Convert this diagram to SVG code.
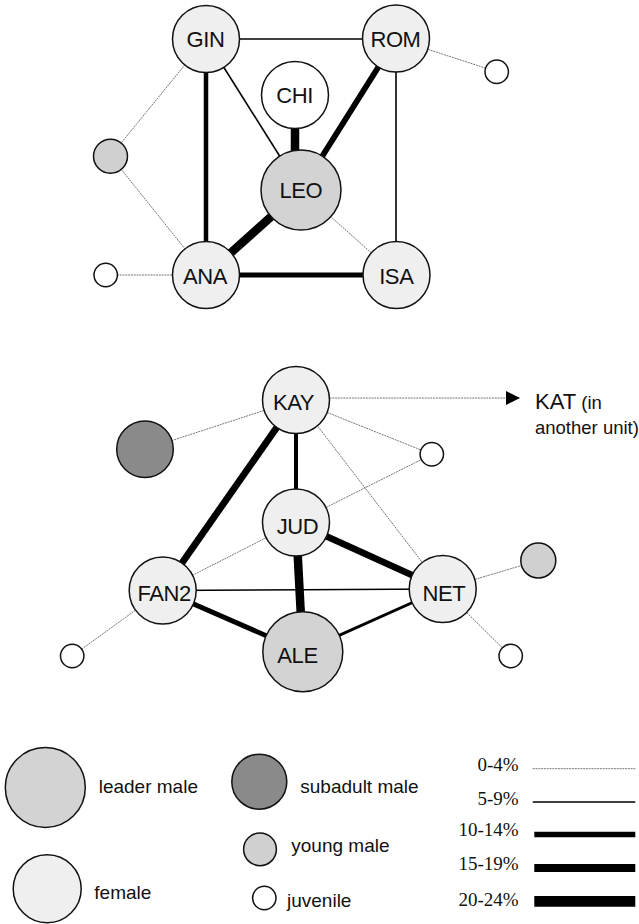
<svg xmlns="http://www.w3.org/2000/svg" width="639" height="924" viewBox="0 0 639 924">
<style>
.n{stroke:#111;stroke-width:1.5}
.fem{fill:#efefef}
.lead{fill:#d3d3d3}
.young{fill:#d0d0d0}
.sub{fill:#8a8a8a}
.juv{fill:#fff}
.lbl{font-family:"Liberation Sans",Arial,sans-serif;font-size:22px;fill:#111;text-anchor:middle;letter-spacing:-0.4px}
.leg{font-family:"Liberation Sans",Arial,sans-serif;font-size:19px;fill:#111}
.pct{font-family:"Liberation Serif","Times New Roman",serif;font-size:19px;fill:#111;text-anchor:end}
.e0{stroke:#666;stroke-width:0.9;stroke-dasharray:2 0.8;fill:none}
.e1{stroke:#000;stroke-width:1.6;fill:none}
.e2{stroke:#000;stroke-width:4.5;fill:none}
.e3{stroke:#000;stroke-width:5.8;fill:none}
.e4{stroke:#000;stroke-width:8.5;fill:none}
</style>
<defs>
<marker id="arr" viewBox="0 0 14 14" refX="14" refY="7" markerWidth="14" markerHeight="14" markerUnits="userSpaceOnUse" orient="auto">
<path d="M0,0 L14,7 L0,14 Z" fill="#000"/>
</marker>
</defs>
<rect width="639" height="924" fill="#fff"/>
<g id="connectors">
<line class="e1" x1="206" y1="39" x2="396" y2="39"/>
<line class="e2" x1="206" y1="39" x2="206" y2="275"/>
<line class="e1" x1="206" y1="39" x2="301" y2="190"/>
<line class="e4" x1="295" y1="95" x2="295" y2="190"/>
<line class="e3" x1="396" y1="39" x2="301" y2="190"/>
<line class="e4" x1="301" y1="190" x2="206" y2="275"/>
<line class="e1" x1="396" y1="39" x2="396" y2="275"/>
<line class="e0" x1="301" y1="190" x2="396" y2="275"/>
<line class="e3" x1="206" y1="275" x2="396" y2="275" style="stroke-width:5"/>
<line class="e0" x1="206" y1="39" x2="110.5" y2="156"/>
<line class="e0" x1="110.5" y1="156" x2="206" y2="275"/>
<line class="e0" x1="396" y1="39" x2="496.7" y2="71.7"/>
<line class="e0" x1="105.7" y1="275" x2="206" y2="275"/>
<line class="e2" x1="296" y1="400" x2="296" y2="522.5" style="stroke-width:4"/>
<line class="e3" x1="296" y1="400" x2="162.7" y2="590.5" style="stroke-width:6.8"/>
<line class="e0" x1="296" y1="400" x2="145" y2="449.3"/>
<line class="e0" x1="296" y1="400" x2="431.8" y2="454.3"/>
<line class="e0" x1="296" y1="398" x2="442.7" y2="589"/>
<line class="e0" x1="296" y1="522.5" x2="431.8" y2="454.3"/>
<line class="e0" x1="296" y1="522.5" x2="162.7" y2="590.5"/>
<line class="e3" x1="296" y1="522.5" x2="442.7" y2="589" style="stroke-width:6.8"/>
<line class="e4" x1="296" y1="522.5" x2="302.8" y2="651.7"/>
<line class="e1" x1="162.7" y1="590.5" x2="442.7" y2="589"/>
<line class="e3" x1="162.7" y1="590.5" x2="302.8" y2="651.7" style="stroke-width:5"/>
<line class="e1" x1="302.8" y1="651.7" x2="442.7" y2="589" style="stroke-width:3"/>
<line class="e0" x1="162.7" y1="590.5" x2="72.2" y2="656"/>
<line class="e0" x1="442.7" y1="589" x2="538.3" y2="560.5"/>
<line class="e0" x1="442.7" y1="589" x2="510.7" y2="656"/>
<line class="e0" x1="329.5" y1="398" x2="520" y2="398" marker-end="url(#arr)"/>
</g>
<g id="GIN"><circle class="n fem" cx="206" cy="39" r="33.5"/><text class="lbl" x="205.5" y="47">GIN</text></g>
<g id="ROM"><circle class="n fem" cx="396" cy="38.5" r="33.5"/><text class="lbl" x="395.5" y="47">ROM</text></g>
<g id="CHI"><circle class="n juv" cx="295" cy="95" r="33.5"/><text class="lbl" x="294.7" y="103">CHI</text></g>
<g id="LEO"><circle class="n lead" cx="301" cy="190" r="40"/><text class="lbl" x="300.8" y="198.3">LEO</text></g>
<g id="ANA"><circle class="n fem" cx="206" cy="275" r="33.5"/><text class="lbl" x="205" y="283.5">ANA</text></g>
<g id="ISA"><circle class="n fem" cx="396.5" cy="275" r="33.5"/><text class="lbl" x="396.3" y="283.5">ISA</text></g>
<g id="top-young"><circle class="n young" cx="110.5" cy="156.3" r="17"/></g>
<g id="top-juv-right"><circle class="n juv" cx="496.7" cy="71.7" r="11.7"/></g>
<g id="top-juv-left"><circle class="n juv" cx="105.7" cy="275" r="11.7"/></g>
<g id="KAY"><circle class="n fem" cx="296" cy="400" r="33.5"/><text class="lbl" x="293.5" y="409.8">KAY</text></g>
<g id="JUD"><circle class="n fem" cx="296" cy="522.5" r="33.5"/><text class="lbl" x="297.5" y="534">JUD</text></g>
<g id="FAN2"><circle class="n fem" cx="162.7" cy="590.5" r="33.5"/><text class="lbl" x="164.2" y="601">FAN2</text></g>
<g id="NET"><circle class="n fem" cx="442.7" cy="589" r="33.5"/><text class="lbl" x="444" y="600.7">NET</text></g>
<g id="ALE"><circle class="n lead" cx="302.8" cy="651.7" r="40"/><text class="lbl" x="297.5" y="663.3">ALE</text></g>
<g id="bot-subadult"><circle class="n sub" cx="145" cy="449.3" r="28.3"/></g>
<g id="bot-juv-top"><circle class="n juv" cx="431.8" cy="454.3" r="11.7"/></g>
<g id="bot-young"><circle class="n young" cx="538.3" cy="560.5" r="17.5"/></g>
<g id="bot-juv-left"><circle class="n juv" cx="72.2" cy="656" r="11.7"/></g>
<g id="bot-juv-right"><circle class="n juv" cx="510.7" cy="656" r="11.7"/></g>
<g id="KAT"><text x="535" y="409.3" font-family="Liberation Sans, Arial, sans-serif" fill="#111"><tspan font-size="22">KAT</tspan><tspan font-size="18.5"> (in</tspan></text><text x="535" y="433.5" font-family="Liberation Sans, Arial, sans-serif" font-size="18.5" fill="#111">another unit)</text></g>
<g id="legend">
<circle class="n lead" cx="45.3" cy="787.5" r="40"/><text class="leg" x="98.7" y="793.3">leader male</text>
<circle class="n fem" cx="47.2" cy="888.8" r="34"/><text class="leg" x="94.3" y="899.3">female</text>
<circle class="n sub" cx="259.3" cy="781.7" r="27.5"/><text class="leg" x="300.3" y="793.3">subadult male</text>
<circle class="n young" cx="260" cy="849.3" r="16.4"/><text class="leg" x="291.3" y="851.7">young male</text>
<circle class="n juv" cx="264.3" cy="898" r="11.7"/><text class="leg" x="287" y="906.7">juvenile</text>
<text class="pct" x="518.7" y="770.7">0-4%</text><line class="e0" x1="532.7" y1="768.7" x2="635.3" y2="768.7"/>
<text class="pct" x="518.7" y="805">5-9%</text><line x1="532.7" y1="802" x2="635.3" y2="802" stroke="#000" stroke-width="1.6"/>
<text class="pct" x="518.7" y="836">10-14%</text><line x1="534.3" y1="834.5" x2="635.3" y2="834.5" stroke="#000" stroke-width="5.5"/>
<text class="pct" x="518.7" y="870">15-19%</text><line x1="534.3" y1="868" x2="635.3" y2="868" stroke="#000" stroke-width="8"/>
<text class="pct" x="518.7" y="905.7">20-24%</text><line x1="534.3" y1="901.3" x2="635.3" y2="901.3" stroke="#000" stroke-width="10.7"/>
</g>
</svg>
